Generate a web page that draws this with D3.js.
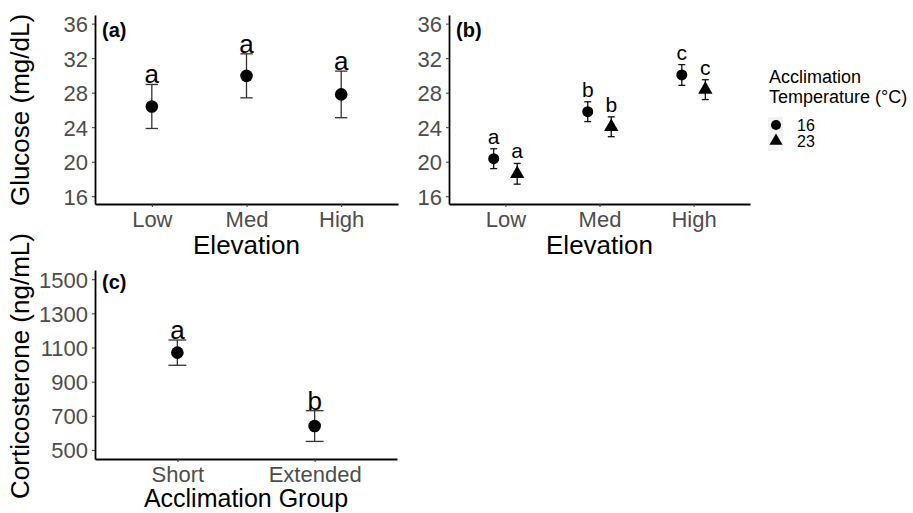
<!DOCTYPE html>
<html>
<head>
<meta charset="utf-8">
<script src="https://cdn.jsdelivr.net/npm/d3@7"></script>
<style>
  body { margin: 0; background: #fff; }
  svg { display: block; font-family: 'Liberation Sans', Arial, sans-serif; }
</style>
</head>
<body>
<svg id="chart" width="913" height="513"></svg>
<script>
// panel (a): glucose by elevation
const elevations = ['Low', 'Med', 'High'];
const glucoseMean = [26.4, 29.95, 27.8];
const glucoseSe = [2.55, 2.55, 2.7];
const glucoseLetters = ['a', 'a', 'a'];

// panel (b): glucose by elevation x acclimation temperature
const acclimTemps = ['16', '23'];
const glucose16Mean = [20.35, 25.8, 30.05];
const glucose16Se = [1.15, 1.15, 1.2];
const glucose23Mean = [18.6, 24.05, 28.35];
const glucose23Se = [1.2, 1.15, 1.15];
const tempLetters = ['a', 'b', 'c'];

// panel (c): corticosterone by acclimation group
const groups = ['Short', 'Extended'];
const corticoMean = [1070, 640];
const corticoSe = [74, 90];
const corticoLetters = ['a', 'b'];

const glucoseTicks = [16, 20, 24, 28, 32, 36];
const corticoTicks = [500, 700, 900, 1100, 1300, 1500];

const svg = d3.select('#chart');
const circle = size => d3.symbol(d3.symbolCircle, size)();
const triangle = size => d3.symbol(d3.symbolTriangle, size)();

const drawPanel = ({
  left, right, top, bottom, yDomain, yTicks, cats, tag, tagY, xTitle, xTitleY, xTitleSize = 26,
}) => {
  const x = d3.scalePoint().domain(cats).range([left, right]).padding(0.6);
  const y = d3.scaleLinear().domain(yDomain).range([bottom, top]);

  const yAxis = svg.append('g')
    .attr('transform', `translate(${left},0)`)
    .call(d3.axisLeft(y)
      .tickValues(yTicks)
      .tickFormat(d3.format('d'))
      .tickSize(3)
      .tickSizeOuter(0)
      .tickPadding(4));
  const xAxis = svg.append('g')
    .attr('transform', `translate(0,${bottom})`)
    .call(d3.axisBottom(x).tickSize(3).tickSizeOuter(0).tickPadding(4));

  [yAxis, xAxis].forEach((axis) => {
    axis.select('.domain').attr('stroke', '#000').attr('stroke-width', 1.8);
    axis.selectAll('.tick line').attr('stroke', '#333').attr('stroke-width', 1);
    axis.selectAll('.tick text')
      .attr('fill', '#4d4d4d')
      .style('font-size', '22px');
  });
  yAxis.selectAll('.tick text').attr('dy', '0.36em');

  svg.append('text')
    .attr('x', left + 7)
    .attr('y', tagY)
    .style('font-size', '20px')
    .style('font-weight', 'bold')
    .text(tag);

  svg.append('text')
    .attr('x', (left + right) / 2)
    .attr('y', xTitleY)
    .attr('text-anchor', 'middle')
    .style('font-size', `${xTitleSize}px`)
    .text(xTitle);

  return { x, y };
};

const drawSeries = ({
  x, y, means, ses, letters, dx, capFrac, shape, lineColor, letterSize, letterGap,
}) => {
  const g = svg.append('g');
  const step = x.step();
  const rows = x.domain().map((cat, i) => ({
    cx: x(cat) + dx * step,
    mean: means[i],
    lo: means[i] - ses[i],
    hi: means[i] + ses[i],
    letter: letters[i],
  }));
  const cap = capFrac * step;

  const bars = g.selectAll('.err').data(rows).join('g').attr('class', 'err')
    .attr('stroke', lineColor)
    .attr('stroke-width', 1.3);
  bars.append('line')
    .attr('x1', d => d.cx).attr('x2', d => d.cx)
    .attr('y1', d => y(d.lo)).attr('y2', d => y(d.hi));
  bars.append('line')
    .attr('x1', d => d.cx - cap).attr('x2', d => d.cx + cap)
    .attr('y1', d => y(d.lo)).attr('y2', d => y(d.lo));
  bars.append('line')
    .attr('x1', d => d.cx - cap).attr('x2', d => d.cx + cap)
    .attr('y1', d => y(d.hi)).attr('y2', d => y(d.hi));

  g.selectAll('.pt').data(rows).join('path').attr('class', 'pt')
    .attr('transform', d => `translate(${d.cx},${y(d.mean)})`)
    .attr('d', shape)
    .attr('fill', '#000');

  g.selectAll('.lab').data(rows).join('text').attr('class', 'lab')
    .attr('x', d => d.cx)
    .attr('y', d => y(d.hi) - letterGap)
    .attr('text-anchor', 'middle')
    .style('font-size', `${letterSize}px`)
    .text(d => d.letter);
};

const yTitle = (label, cy) => {
  svg.append('text')
    .attr('transform', `translate(28.5,${cy}) rotate(-90)`)
    .attr('text-anchor', 'middle')
    .style('font-size', '26px')
    .text(label);
};

// (a)
const pa = drawPanel({
  left: 95, right: 398, top: 15, bottom: 204,
  yDomain: [15.1, 37.0], yTicks: glucoseTicks, cats: elevations,
  tag: '(a)', tagY: 37, xTitle: 'Elevation', xTitleY: 254,
});
drawSeries({
  ...pa, means: glucoseMean, ses: glucoseSe, letters: glucoseLetters,
  dx: 0, capFrac: 0.065, shape: circle(125), lineColor: '#333', letterSize: 26, letterGap: 1,
});
yTitle('Glucose (mg/dL)', 110);

// (b)
const pb = drawPanel({
  left: 449, right: 750, top: 15, bottom: 204,
  yDomain: [15.1, 37.0], yTicks: glucoseTicks, cats: elevations,
  tag: '(b)', tagY: 37, xTitle: 'Elevation', xTitleY: 254,
});
drawSeries({
  ...pb, means: glucose16Mean, ses: glucose16Se, letters: tempLetters,
  dx: -0.125, capFrac: 0.037, shape: circle(95), lineColor: '#111', letterSize: 21, letterGap: 5,
});
drawSeries({
  ...pb, means: glucose23Mean, ses: glucose23Se, letters: tempLetters,
  dx: 0.125, capFrac: 0.037, shape: triangle(90), lineColor: '#111', letterSize: 21, letterGap: 5,
});

// (c)
const pc = drawPanel({
  left: 95, right: 397, top: 270, bottom: 459,
  yDomain: [447, 1554], yTicks: corticoTicks, cats: groups,
  tag: '(c)', tagY: 289, xTitle: 'Acclimation Group', xTitleY: 507, xTitleSize: 25,
});
drawSeries({
  ...pc, means: corticoMean, ses: corticoSe, letters: corticoLetters,
  dx: 0, capFrac: 0.065, shape: circle(125), lineColor: '#333', letterSize: 26, letterGap: 1,
});
yTitle('Corticosterone (ng/mL)', 366);

// legend
const legend = svg.append('g').attr('transform', 'translate(769,0)');
legend.selectAll('.title').data(['Acclimation', 'Temperature (°C)']).join('text')
  .attr('class', 'title')
  .attr('x', 0)
  .attr('y', (d, i) => 83 + i * 20)
  .style('font-size', '18px')
  .text(d => d);
legend.append('rect')
  .attr('x', -1).attr('y', 117).attr('width', 15).attr('height', 34)
  .attr('fill', '#f2f2f2');
const keyShapes = [circle(80), triangle(75)];
legend.selectAll('.key').data(acclimTemps).join('path')
  .attr('class', 'key')
  .attr('transform', (d, i) => `translate(7,${125 + i * 16})`)
  .attr('d', (d, i) => keyShapes[i])
  .attr('fill', '#000');
legend.selectAll('.klab').data(acclimTemps).join('text')
  .attr('class', 'klab')
  .attr('x', 28)
  .attr('y', (d, i) => 130.5 + i * 16)
  .style('font-size', '16px')
  .text(d => d);
</script>
</body>
</html>
